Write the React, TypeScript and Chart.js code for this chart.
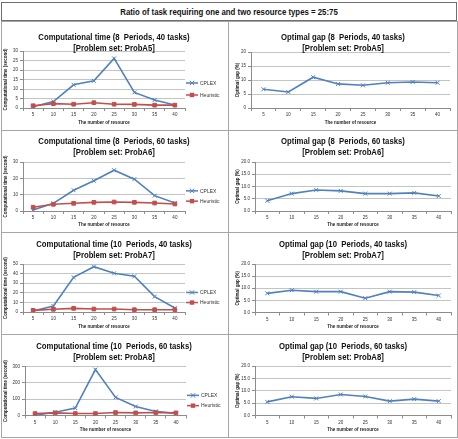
import React, { useEffect, useRef } from "react";
import { Chart, registerables } from "chart.js";

Chart.register(...registerables);

// Number of resources (category axis)
const resources = ["5", "10", "15", "20", "25", "30", "35", "40"];

// ProbA5: 8 periods, 40 tasks
const cplexA5 = [0.7, 3.4, 12.2, 14.3, 26.1, 8.2, 4.2, 1.6];
const heuristicA5 = [1.2, 2.3, 2.0, 2.8, 2.0, 1.9, 1.5, 1.5];
const gapA5 = [6.7, 5.7, 11.0, 8.6, 8.1, 9.0, 9.3, 9.0];

// ProbA6: 8 periods, 60 tasks
const cplexA6 = [0.6, 4.7, 12.7, 18.5, 25.0, 19.5, 9.4, 4.9];
const heuristicA6 = [2.3, 4.1, 4.7, 5.3, 5.5, 5.3, 4.9, 4.3];
const gapA6 = [4.2, 7.1, 8.6, 8.2, 7.1, 7.1, 7.4, 6.1];

// ProbA7: 10 periods, 40 tasks
const cplexA7 = [1.0, 6.3, 36.1, 47.2, 40.3, 37.2, 16.0, 4.2];
const heuristicA7 = [1.7, 2.8, 3.8, 3.1, 3.1, 2.4, 2.4, 2.4];
const gapA7 = [7.9, 9.2, 8.6, 8.6, 5.9, 8.6, 8.4, 7.0];

// ProbA8: 10 periods, 60 tasks
const cplexA8 = [2, 20, 45, 281, 111, 55, 25, 12];
const heuristicA8 = [12, 16, 12, 12, 18, 16, 18, 16];
const gapA8 = [5.5, 7.6, 6.9, 8.5, 7.7, 5.8, 6.6, 5.8];

// Value-axis ranges: [max, step, decimals]
const timeAxisA5 = [30, 5, 0];
const timeAxisA6 = [30, 5, 0];
const timeAxisA7 = [50, 10, 0];
const timeAxisA8 = [300, 50, 0];
const gapAxisA5 = [20, 5, 0];
const gapAxisA6 = [20, 5, 1];
const gapAxisA7 = [20, 5, 1];
const gapAxisA8 = [20, 5, 1];

const heading = "Ratio of task requiring one and two resource types = 25:75";
const timeAxisTitle = "Computational time (second)";
const gapAxisTitle = "Optimal gap (%)";
const resourceAxisTitle = "The number of resource";

const BLUE = "#4F81BD";
const RED = "#C0504D";
const FONT = "'Liberation Sans', Arial, sans-serif";

type Series = { label: string; data: number[]; color: string; marker: string };
type Panel = {
  line1: string;
  line2: string;
  yTitle: string;
  series: Series[];
  axis: number[];
  col: number;
  row: number;
  area: [number, number, number, number]; // left, top, right, bottom (page px)
  legend: boolean;
};

const cplex = (data: number[]): Series => ({ label: "CPLEX", data, color: BLUE, marker: "crossRot" });
const heuristic = (data: number[]): Series => ({ label: "Heuristic", data, color: RED, marker: "rect" });
const gap = (data: number[]): Series => ({ label: "Optimal gap", data, color: BLUE, marker: "crossRot" });

const panels: Panel[] = [
  { line1: "Computational time (8  Periods, 40 tasks)", line2: "[Problem set: ProbA5]", yTitle: timeAxisTitle,
    series: [cplex(cplexA5), heuristic(heuristicA5)], axis: timeAxisA5, col: 0, row: 0, area: [23, 51, 185, 108], legend: true },
  { line1: "Optimal gap (8  Periods, 40 tasks)", line2: "[Problem set: ProbA5]", yTitle: gapAxisTitle,
    series: [gap(gapA5)], axis: gapAxisA5, col: 1, row: 0, area: [251, 52, 450, 108], legend: false },
  { line1: "Computational time (8  Periods, 60 tasks)", line2: "[Problem set: ProbA6]", yTitle: timeAxisTitle,
    series: [cplex(cplexA6), heuristic(heuristicA6)], axis: timeAxisA6, col: 0, row: 1, area: [23, 162, 185, 211], legend: true },
  { line1: "Optimal gap (8  Periods, 60 tasks)", line2: "[Problem set: ProbA6]", yTitle: gapAxisTitle,
    series: [gap(gapA6)], axis: gapAxisA6, col: 1, row: 1, area: [255, 162, 451, 211], legend: false },
  { line1: "Computational time (10  Periods, 40 tasks)", line2: "[Problem set: ProbA7]", yTitle: timeAxisTitle,
    series: [cplex(cplexA7), heuristic(heuristicA7)], axis: timeAxisA7, col: 0, row: 2, area: [23, 264, 185, 312], legend: true },
  { line1: "Optimal gap (10  Periods, 40 tasks)", line2: "[Problem set: ProbA7]", yTitle: gapAxisTitle,
    series: [gap(gapA7)], axis: gapAxisA7, col: 1, row: 2, area: [255, 264, 451, 312.5], legend: false },
  { line1: "Computational time (10  Periods, 60 tasks)", line2: "[Problem set: ProbA8]", yTitle: timeAxisTitle,
    series: [cplex(cplexA8), heuristic(heuristicA8)], axis: timeAxisA8, col: 0, row: 3, area: [25, 366.5, 186, 415.5], legend: true },
  { line1: "Optimal gap (10  Periods, 60 tasks)", line2: "[Problem set: ProbA8]", yTitle: gapAxisTitle,
    series: [gap(gapA8)], axis: gapAxisA8, col: 1, row: 3, area: [255, 366, 451, 415.5], legend: false },
];

// Cell geometry of the table
const colLeft = [2, 229];
const colWidth = [225, 227];
const rowTop = [22, 131, 233, 335];
const rowHeight = [107, 100, 100, 101];
const titleLineY = [37, 141, 244, 346];
const titleCenterX = [114, 343];

function drawMarker(ctx: CanvasRenderingContext2D, style: string, x: number, y: number, r: number, color: string) {
  ctx.save();
  ctx.strokeStyle = color;
  ctx.fillStyle = color;
  ctx.lineWidth = 1;
  if (style === "rect") {
    ctx.fillRect(x - r, y - r, r * 2, r * 2);
  } else {
    ctx.beginPath();
    ctx.moveTo(x - r, y - r);
    ctx.lineTo(x + r, y + r);
    ctx.moveTo(x + r, y - r);
    ctx.lineTo(x - r, y + r);
    ctx.stroke();
  }
  ctx.restore();
}

// Legend to the right of the plot: a line sample with its marker, then the name.
const sideLegend = {
  id: "sideLegend",
  afterDraw(chart: any, _args: any, opts: any) {
    if (!opts || !opts.show) return;
    const { ctx, chartArea } = chart;
    const items: Series[] = opts.items;
    const h = chartArea.bottom - chartArea.top;
    const spacing = h * 0.21;
    const cy = (chartArea.top + chartArea.bottom) / 2 + 9.5;
    const x0 = chartArea.right + 1;
    items.forEach((it, i) => {
      const y = cy + (i - (items.length - 1) / 2) * spacing;
      ctx.save();
      ctx.strokeStyle = it.color;
      ctx.lineWidth = 1.5;
      ctx.beginPath();
      ctx.moveTo(x0, y);
      ctx.lineTo(x0 + 12, y);
      ctx.stroke();
      ctx.restore();
      drawMarker(ctx, it.marker, x0 + 6, y, it.marker === "rect" ? 2.2 : 2.2, it.color);
      ctx.save();
      ctx.fillStyle = "#333";
      ctx.font = `5px ${FONT}`;
      ctx.textBaseline = "middle";
      ctx.textAlign = "left";
      ctx.fillText(it.label, x0 + 14, y + 0.3);
      ctx.restore();
    });
  },
};

function ChartPanel({ p }: { p: Panel }) {
  const ref = useRef<HTMLCanvasElement | null>(null);
  const cl = colLeft[p.col];
  const cw = colWidth[p.col];
  const ct = rowTop[p.row];
  const ch = rowHeight[p.row];

  useEffect(() => {
    if (!ref.current) return;
    const [aL, aT, aR, aB] = p.area;
    const [yMax, yStep, yDec] = p.axis;
    const tickFont = { family: FONT, size: 4.5 };
    const titleFont = { family: FONT, size: 4.5, weight: "bold" as const };
    const chart = new Chart(ref.current, {
      type: "line",
      data: {
        labels: resources,
        datasets: p.series.map((s, i) => ({
          label: s.label,
          data: s.data,
          borderColor: s.color,
          backgroundColor: s.color,
          borderWidth: 1.6,
          pointStyle: s.marker as any,
          pointRadius: s.marker === "rect" ? 2.6 : 2.8,
          pointBorderWidth: 1,
          pointBorderColor: s.color,
          pointBackgroundColor: s.color,
          tension: 0,
          order: s.marker === "rect" ? 0 : 1,
        })),
      },
      options: {
        animation: false,
        responsive: false,
        maintainAspectRatio: false,
        devicePixelRatio: 1,
        events: [],
        layout: { padding: { left: 0, top: aT - ct, right: cl + cw - aR, bottom: 0 } },
        plugins: {
          legend: { display: false },
          title: { display: false },
          tooltip: { enabled: false },
          sideLegend: { show: p.legend, items: p.series },
        } as any,
        scales: {
          x: {
            type: "category",
            offset: true,
            grid: { display: true, drawOnChartArea: false, drawTicks: true, tickLength: 3, offset: true, color: "#8c8c8c" },
            border: { display: true, color: "#8c8c8c", width: 1 },
            ticks: { font: tickFont, color: "#333", padding: 1.3, maxRotation: 0, autoSkip: false },
            title: { display: true, text: resourceAxisTitle, font: titleFont, color: "#222", padding: { top: 0, bottom: 3.3 } },
            afterFit: (s: any) => { s.height = ct + ch - aB; },
          },
          y: {
            min: 0,
            max: yMax,
            ticks: {
              stepSize: yStep,
              font: tickFont,
              color: "#333",
              padding: 2,
              callback: (v: any) => Number(v).toFixed(yDec),
            },
            grid: { color: "#c4c4c4", lineWidth: 1, tickLength: 3, tickColor: "#8c8c8c", drawTicks: true },
            border: { display: true, color: "#8c8c8c", width: 1 },
            title: {
              display: true,
              text: p.yTitle,
              font: titleFont,
              color: "#222",
              padding: { top: p.col === 0 ? 1.3 : 6.3, bottom: 0 },
            },
            afterFit: (s: any) => { s.width = aL - cl; },
          },
        },
      },
      plugins: [sideLegend as any],
    });
    return () => chart.destroy();
  }, [p]);

  const ty = titleLineY[p.row];
  const tx = titleCenterX[p.col];
  const titleStyle: React.CSSProperties = {
    position: "absolute",
    left: tx,
    whiteSpace: "pre",
    fontFamily: FONT,
    fontWeight: "bold",
    fontSize: "8.5px",
    lineHeight: "10px",
    color: "#111",
    transform: "translate(-50%, -50%) scaleX(0.91)",
  };
  return (
    <>
      <canvas
        ref={ref}
        width={cw}
        height={ch}
        style={{ position: "absolute", left: cl, top: ct, width: cw, height: ch }}
      />
      <div style={{ ...titleStyle, top: ty }}>{p.line1}</div>
      <div style={{ ...titleStyle, top: ty + 11 }}>{p.line2}</div>
    </>
  );
}

export default function App() {
  const line = "#a6a6a6";
  return (
    <div style={{ position: "fixed", left: 0, top: 0, width: 458, height: 439, background: "#fff", overflow: "hidden" }}>
      {/* heading box */}
      <div
        style={{
          position: "absolute", left: 1, top: 2, width: 456, height: 19, boxSizing: "border-box",
          border: "1px solid #6e6e6e",
        }}
      />
      <div
        style={{
          position: "absolute", left: 229, top: 11.5, whiteSpace: "pre", fontFamily: FONT, fontWeight: "bold",
          fontSize: "8.5px", color: "#111", transform: "translate(-50%, -50%) scaleX(0.92)",
        }}
      >
        {heading}
      </div>
      {/* table frame */}
      <div
        style={{
          position: "absolute", left: 1, top: 21, width: 457, height: 417, boxSizing: "border-box",
          border: `1px solid ${line}`,
        }}
      />
      <div style={{ position: "absolute", left: 228, top: 21, width: 1, height: 417, background: line }} />
      {[130, 232, 334].map((y) => (
        <div key={y} style={{ position: "absolute", left: 1, top: y, width: 457, height: 1, background: line }} />
      ))}
      {panels.map((p, i) => (
        <ChartPanel key={i} p={p} />
      ))}
    </div>
  );
}
